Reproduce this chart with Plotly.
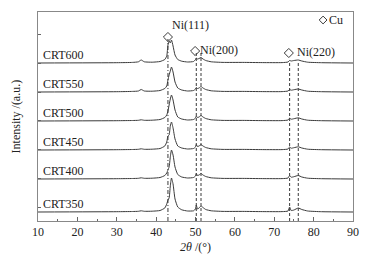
import plotly.graph_objects as go

# 2theta sample positions (deg)
two_theta = [10, 30, 34, 35.5, 36.2, 37, 39, 41,
             42.2, 42.7, 43.0, 43.3, 43.6, 43.9, 44.3, 44.8, 45.5, 46.5, 48,
             49.5, 50.0, 50.2, 50.5, 50.9, 51.4, 51.9, 52.6, 54, 57,
             62, 67, 72,
             73.5, 73.9, 74.3, 75.0, 76.1, 77.0, 78.5, 82, 90]

samples = ["CRT350", "CRT400", "CRT450", "CRT500", "CRT550", "CRT600"]

crt350 = [0, 0.3, 0.5, 0.7, 1.2, 0.7, 0.8, 1.5,
          4, 8, 12, 14, 26, 34, 28, 13, 5, 2.2, 1.0,
          1.2, 3, 7, 3, 4, 6, 4.5, 2.5, 1.2, 0.6,
          0.6, 0.4, 0.4,
          1, 5, 1.5, 2, 4, 2.5, 1, 0.3, 0]
crt400 = [0, 0.3, 0.5, 0.7, 1.2, 0.7, 0.8, 1.5,
          3.5, 6, 9, 12, 22, 29, 24, 12, 4.5, 2, 1.0,
          1.5, 3, 5.5, 3.5, 4, 5.5, 4, 2.5, 1.2, 0.6,
          0.6, 0.4, 0.4,
          1, 3.5, 1.8, 2.3, 3.5, 2, 0.8, 0.3, 0]
crt450 = [0, 0.3, 0.5, 0.7, 1.2, 0.7, 0.8, 1.5,
          4, 8, 14, 15, 24, 28, 22, 11, 4, 2, 1.0,
          1.5, 3, 5.5, 3.5, 4, 5.5, 4, 2.5, 1.2, 0.6,
          0.6, 0.4, 0.4,
          1, 3, 1.8, 2.3, 3.2, 2, 0.8, 0.3, 0]
crt500 = [0, 0.3, 0.5, 0.7, 1.2, 0.7, 0.8, 1.5,
          3.5, 6, 10, 16, 22, 26, 21, 11, 4, 2, 1.0,
          1.5, 3, 5, 3.5, 4, 5.5, 4, 2.5, 1.2, 0.6,
          0.6, 0.4, 0.4,
          1, 2.8, 1.8, 2.3, 3.2, 2, 0.8, 0.3, 0]
crt550 = [0, 0.3, 0.6, 1.0, 2.5, 1.0, 0.8, 1.5,
          3.5, 6, 12, 17, 21, 25, 20, 10, 4, 2, 1.0,
          1.5, 3, 4.5, 3.5, 4, 5.5, 4, 2.5, 1.2, 0.6,
          0.6, 0.4, 0.4,
          1, 2.5, 1.8, 2.3, 3, 2, 0.8, 0.3, 0]
crt600 = [0, 0.3, 0.6, 1.2, 3, 1.2, 0.8, 1.5,
          3.5, 7, 18, 22, 20, 23, 17, 8, 3.5, 1.8, 1.0,
          1.5, 3.5, 5, 4, 4.5, 5.5, 4, 2.5, 1.2, 0.6,
          0.6, 0.4, 0.4,
          1, 2.5, 2, 2.5, 3, 2, 0.8, 0.3, 0]

# stacking offsets (a.u.)
offsets = [9, 42, 71, 100, 129, 158]

# reference peak positions (Cu / Ni) and extent of dashed guides
ref_pos = [43.0, 50.2, 51.4, 73.9, 76.1]
ref_top = [182, 168, 168, 160, 160]
ref_dash = ["4px,2px,1px,2px", "3px,2px", "3px,2px", "3px,2px", "3px,2px"]

# Cu markers
cu_x = [43.0, 49.9, 73.7]
cu_y = [184, 170, 168]

peak_labels = ["Ni(111)", "Ni(200)", "Ni(220)"]
peak_label_x = [48.8, 50.6, 75.2]
peak_label_y = [196, 171, 169]

FONT = "Liberation Serif, Times New Roman, serif"
LINE = "#3a3a3a"

series = [crt350, crt400, crt450, crt500, crt550, crt600]

fig = go.Figure()
for name, vals, off in zip(samples, series, offsets):
    fig.add_trace(go.Scatter(
        x=two_theta, y=[v + off for v in vals], mode="lines",
        line=dict(color=LINE, width=1, shape="spline", smoothing=0.5),
        name=name, showlegend=False, hoverinfo="skip"))
    fig.add_annotation(x=10.8, y=off + 8.5, text=name, showarrow=False,
                       xanchor="left", yanchor="middle",
                       font=dict(family=FONT, size=12, color="#222"))

for xp, top, dash in zip(ref_pos, ref_top, ref_dash):
    fig.add_shape(type="line", x0=xp, x1=xp, y0=0, y1=top, xref="x", yref="y",
                  line=dict(color=LINE, width=1, dash=dash))

fig.add_trace(go.Scatter(
    x=cu_x, y=cu_y, mode="markers",
    marker=dict(symbol="diamond-open", size=7, color=LINE, line=dict(width=1, color=LINE)),
    showlegend=False, hoverinfo="skip"))

for t, xx, yy in zip(peak_labels, peak_label_x, peak_label_y):
    fig.add_annotation(x=xx, y=yy, text=t, showarrow=False,
                       xanchor="center" if t == "Ni(111)" else "left", yanchor="middle",
                       font=dict(family=FONT, size=12, color="#222"))

# legend for Cu
fig.add_trace(go.Scatter(
    x=[82.4], y=[201], mode="markers",
    marker=dict(symbol="diamond-open", size=6, color=LINE, line=dict(width=1, color=LINE)),
    showlegend=False, hoverinfo="skip"))
fig.add_annotation(x=83.5, y=201, text="Cu", showarrow=False, xanchor="left",
                   yanchor="middle", font=dict(family=FONT, size=12, color="#222"))

# y-axis title as rotated annotation (keeps the plot area fixed)
fig.add_annotation(xref="paper", yref="paper", x=-0.07, y=0.5, text="Intensity /(a.u.)",
                   textangle=-90, showarrow=False, xanchor="center", yanchor="middle",
                   font=dict(family=FONT, size=12, color="#222"))

fig.update_layout(
    width=374, height=260,
    margin=dict(l=38, r=21, t=12, b=39, autoexpand=False),
    paper_bgcolor="white", plot_bgcolor="white",
    font=dict(family=FONT, size=12, color="#222"),
    xaxis=dict(range=[10, 90], dtick=10, tick0=10, ticks="inside", ticklen=4,
               tickcolor="#666", showline=True, linecolor="#888", linewidth=1,
               mirror=True, showgrid=False, zeroline=False, automargin=False,
               minor=dict(dtick=5, ticks="inside", ticklen=2, tickcolor="#666"),
               tickfont=dict(family=FONT, size=12, color="#222"),
               title=dict(text="<i>2θ</i> /(°)", standoff=4,
                          font=dict(family=FONT, size=12, color="#222"))),
    yaxis=dict(range=[0, 209], showticklabels=False, ticks="inside", ticklen=3,
               tick0=14, dtick=28.7, tickcolor="#666",
               showline=True, linecolor="#888", linewidth=1, mirror=True,
               showgrid=False, zeroline=False, automargin=False),
)

fig.write_html("out.html", config={"displayModeBar": False},
               post_script="document.body.style.margin='0';document.body.style.overflow='hidden';")
